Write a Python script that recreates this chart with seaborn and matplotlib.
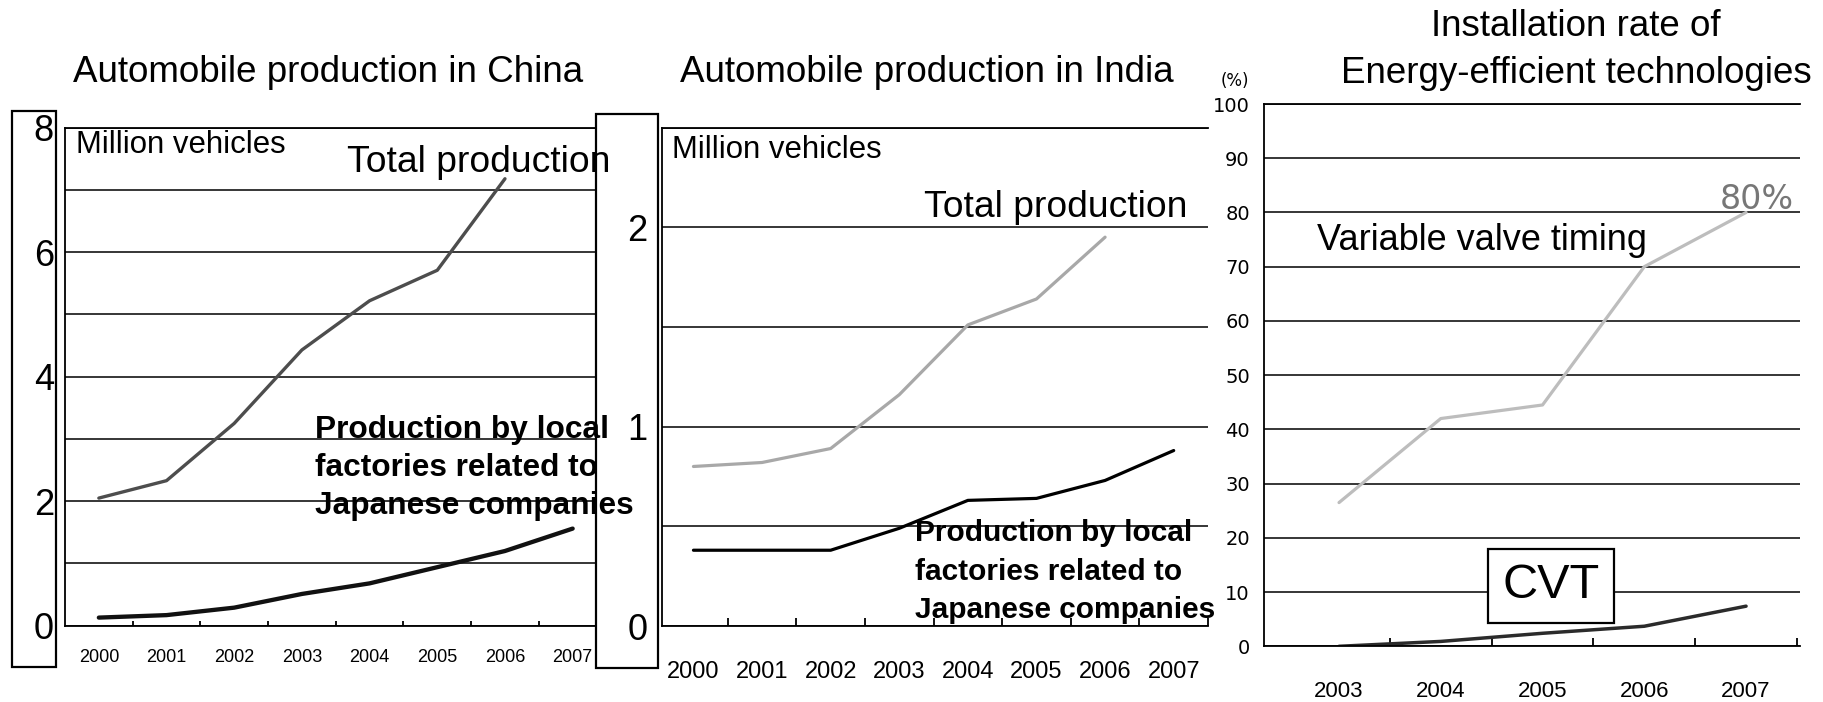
import numpy as np
import pandas as pd
import matplotlib
matplotlib.use("Agg")
import matplotlib.pyplot as plt
from matplotlib.patches import Rectangle
import seaborn as sns

# Automobile production, million vehicles
years = [2000, 2001, 2002, 2003, 2004, 2005, 2006, 2007]
total_years = [2000, 2001, 2002, 2003, 2004, 2005, 2006]
china_total = [2.05, 2.33, 3.25, 4.43, 5.22, 5.71, 7.18]
china_japanese = [0.13, 0.17, 0.29, 0.51, 0.68, 0.94, 1.20, 1.56]
india_total = [0.80, 0.82, 0.89, 1.16, 1.51, 1.64, 1.95]
india_japanese = [0.38, 0.38, 0.38, 0.49, 0.63, 0.64, 0.73, 0.88]

# Installation rate of energy-efficient technologies, %
tech_years = [2003, 2004, 2005, 2006, 2007]
vvt_rate = [26.5, 42.0, 44.5, 70.0, 80.0]
cvt_rate = [0.0, 0.9, 2.4, 3.7, 7.4]

china_yticks = [0, 1, 2, 3, 4, 5, 6, 7, 8]
china_ylabels = ["0", "", "2", "", "4", "", "6", "", "8"]
india_yticks = [0, 0.5, 1, 1.5, 2, 2.5]
india_ylabels = ["0", "", "1", "", "2", ""]
tech_yticks = list(range(0, 101, 10))

japanese_label = ["Production by local", "factories related to",
                  "Japanese companies"]

sns.set_style("white")
plt.rcParams["font.family"] = ["Liberation Sans", "DejaVu Sans"]
plt.rcParams["text.color"] = "black"
plt.rcParams["xtick.color"] = "black"
plt.rcParams["ytick.color"] = "black"
plt.rcParams["axes.labelcolor"] = "black"

W, H = 1823, 702
fig = plt.figure(figsize=(W / 100, H / 100), dpi=100)


def rect(l, t, r, b):
    return [l / W, 1 - b / H, (r - l) / W, (b - t) / H]


def ftext(x, y, s, **kw):
    kw.setdefault("va", "baseline")
    kw.setdefault("zorder", 5)
    kw.setdefault("color", "black")
    return fig.text(x / W, 1 - y / H, s, **kw)


def fbox(l, t, r, b, fill=False):
    fig.add_artist(Rectangle((l / W, 1 - b / H), (r - l) / W, (b - t) / H,
                             transform=fig.transFigure, fill=fill,
                             facecolor="white", edgecolor="black",
                             linewidth=1.6, zorder=1))


def frame(ax, xlim, ylim, yticks, ylabels, minor_x, tick_len):
    ax.set_facecolor("none")
    ax.set_xlim(*xlim)
    ax.set_ylim(*ylim)
    ax.set_yticks(yticks)
    ax.set_yticklabels(ylabels)
    ax.set_xlabel("")
    ax.set_ylabel("")
    for side in ("left", "bottom", "top"):
        ax.spines[side].set_visible(True)
        ax.spines[side].set_color("black")
        ax.spines[side].set_linewidth(1.3)
    ax.spines["right"].set_visible(False)
    ax.grid(axis="y", color="black", linewidth=1.1)
    ax.grid(axis="x", visible=False)
    ax.set_xticks(minor_x, minor=True)
    ax.tick_params(axis="x", which="minor", direction="in", length=tick_len,
                   width=1.3, color="black", bottom=True)
    ax.tick_params(axis="x", which="major", length=0)
    ax.tick_params(axis="y", which="both", length=0)


# ---- China ----
ax1 = fig.add_axes(rect(65, 127.7, 595, 625.7))
sns.lineplot(x=total_years, y=china_total, ax=ax1, color="#4d4d4d",
             linewidth=2.4, legend=False)
sns.lineplot(x=years, y=china_japanese, ax=ax1, color="#111111",
             linewidth=3.1, legend=False)
frame(ax1, (1999.5, 2007.33), (0, 8), china_yticks, china_ylabels,
      [y + 0.5 for y in years[:-1]], 3.5)
ax1.set_xticks(years)
ax1.set_xticklabels([str(y) for y in years], fontsize=13)
ax1.tick_params(axis="x", which="major", pad=17)
ax1.tick_params(axis="y", labelsize=26, pad=8)

# ---- India ----
ax2 = fig.add_axes(rect(662.3, 127.5, 1208, 626))
sns.lineplot(x=total_years, y=india_total, ax=ax2, color="#a8a8a8",
             linewidth=2.3, legend=False)
sns.lineplot(x=years, y=india_japanese, ax=ax2, color="#000000",
             linewidth=2.3, legend=False)
frame(ax2, (1999.546, 2007.5), (0, 2.5), india_yticks, india_ylabels,
      [y + 0.5 for y in years], 5.8)
ax2.set_xticks(years)
ax2.set_xticklabels([str(y) for y in years], fontsize=17,
                    family=["Liberation Sans Narrow", "Liberation Sans"])
ax2.tick_params(axis="x", which="major", pad=25)
ax2.tick_params(axis="y", labelsize=26, pad=10.5)

# ---- Technologies ----
ax3 = fig.add_axes(rect(1263.7, 104, 1800, 646.3))
sns.lineplot(x=tech_years, y=vvt_rate, ax=ax3, color="#bdbdbd",
             linewidth=2.3, legend=False)
sns.lineplot(x=tech_years, y=cvt_rate, ax=ax3, color="#2b2b2b",
             linewidth=2.5, legend=False)
frame(ax3, (2002.26, 2007.53), (0, 100), tech_yticks,
      [str(v) for v in tech_yticks], [y + 0.5 for y in tech_years], 5.8)
ax3.set_xticks(tech_years)
ax3.set_xticklabels([str(y) for y in tech_years], fontsize=16)
ax3.tick_params(axis="x", which="major", pad=25)
ax3.tick_params(axis="y", pad=10)
for lab in ax3.get_yticklabels():
    lab.set_family("DejaVu Sans")
    lab.set_fontsize(14)
ax3.annotate(f"{vvt_rate[-1]:g}%", xy=(tech_years[-1], vvt_rate[-1]),
             xytext=(8, 9), textcoords="offset points", ha="center",
             va="center", fontsize=24, color="#777777", family="DejaVu Sans",
             annotation_clip=False)

# ---- label boxes round the y tick labels ----
fbox(11.7, 110.5, 55.7, 666.7)
fbox(596, 114, 657.7, 668.3)

# ---- titles ----
ftext(327.7, 81.7, "Automobile production in China", fontsize=26.5, ha="center")
ftext(927, 81.7, "Automobile production in India", fontsize=26.5, ha="center")
ftext(1576, 36, "Installation rate of", fontsize=26.5, ha="center")
ftext(1576, 83, "Energy-efficient technologies", fontsize=26.5, ha="center")

# ---- annotations ----
ftext(75.6, 153, "Million vehicles", fontsize=22.4)
ftext(346.7, 171.7, "Total production", fontsize=26.8)
for line, base in zip(japanese_label, [438.0, 476.3, 513.6]):
    ftext(315, base, line, fontsize=22.8, fontweight="bold")

ftext(671.7, 158.3, "Million vehicles", fontsize=22.4)
ftext(924, 217, "Total production", fontsize=26.8)
for line, base in zip(japanese_label, [540.8, 580.4, 617.6]):
    ftext(915, base, line, fontsize=21.5, fontweight="bold")

ftext(1234.7, 81.4, "(%)", fontsize=12, ha="center", va="center",
      family="DejaVu Sans")
ftext(1317, 249.8, "Variable valve timing", fontsize=26)
ftext(1551, 586, "CVT", fontsize=35, ha="center", va="center",
      bbox=dict(boxstyle="square,pad=0.3", facecolor="white",
                edgecolor="black", linewidth=1.6))

fig.savefig("out.png", dpi=100)
